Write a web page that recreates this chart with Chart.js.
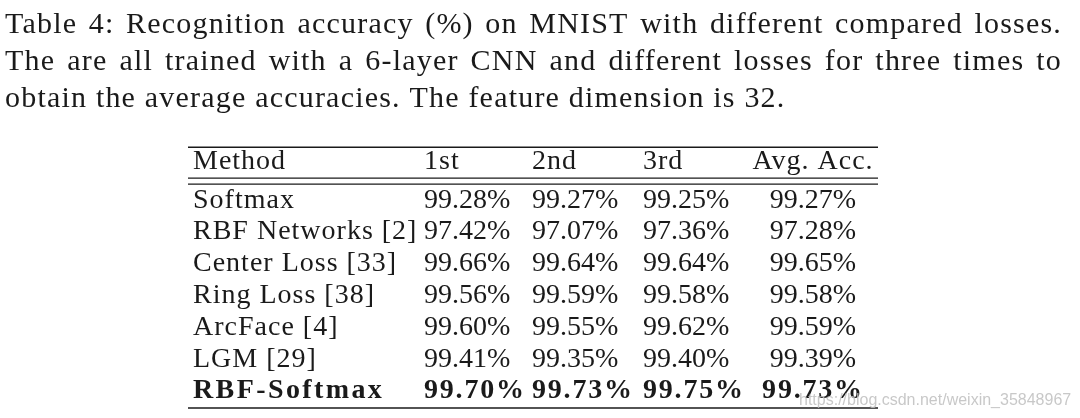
<!DOCTYPE html>
<html>
<head>
<meta charset="utf-8">
<script src="https://cdn.jsdelivr.net/npm/chart.js@4"></script>
<style>
  body { margin: 0; background: #fff; }
  #wrap { width: 1080px; height: 418px; }
</style>
</head>
<body>
<div id="wrap"><canvas id="table" width="1080" height="418"></canvas></div>
<script>
// caption + table content
const captionLines = [
  "Table 4: Recognition accuracy (%) on MNIST with different compared losses.",
  "The are all trained with a 6-layer CNN and different losses for three times to",
  "obtain the average accuracies. The feature dimension is 32."
];
const headers = ["Method", "1st", "2nd", "3rd", "Avg. Acc."];
const methods = ["Softmax", "RBF Networks [2]", "Center Loss [33]", "Ring Loss [38]",
  "ArcFace [4]", "LGM [29]", "RBF-Softmax"];
const run1 = [99.28, 97.42, 99.66, 99.56, 99.60, 99.41, 99.70];
const run2 = [99.27, 97.07, 99.64, 99.59, 99.55, 99.35, 99.73];
const run3 = [99.25, 97.36, 99.64, 99.58, 99.62, 99.40, 99.75];
const avgAcc = [99.27, 97.28, 99.65, 99.58, 99.59, 99.39, 99.73];
const boldRow = 6;
const watermark = "https://blog.csdn.net/weixin_35848967";

// layout (table units = px along x, row units along y)
const colWidths = [231, 108, 111, 110, 130];
const colAlign = ["left", "left", "left", "left", "center"];
const tabSep = 5;
const headerRow = -1.22;
const rules = [
  { y: -1.9, w: 1.5 },
  { y: -0.93, w: 1.3 },
  { y: -0.74, w: 1.3 },
  { y: 6.3, w: 1.5 }
];
const serif = "'Liberation Serif', 'Times New Roman', serif";

const colStarts = colWidths.reduce((acc, w, i) => {
  acc.push(i === 0 ? 0 : acc[i - 1] + colWidths[i - 1]);
  return acc;
}, []);
const tableWidth = colWidths.reduce((a, b) => a + b, 0);

const fmt = (v) => v.toFixed(2) + "%";

// Times is narrower than the Computer Modern in the scan, so widen with tracking
function setSpacing(ctx, px) {
  if ("letterSpacing" in ctx) ctx.letterSpacing = px + "px";
}

function drawCell(ctx, xs, col, text, y) {
  let x;
  if (colAlign[col] === "center") {
    ctx.textAlign = "center";
    x = xs.getPixelForValue(colStarts[col] + colWidths[col] / 2);
  } else {
    ctx.textAlign = "left";
    x = xs.getPixelForValue(colStarts[col] + tabSep);
  }
  ctx.fillText(text, x, y);
}

const tablePlugin = {
  id: "tablePlugin",
  afterDraw(chart) {
    const ctx = chart.ctx;
    const xs = chart.scales.x;
    const ys = chart.scales.y;
    ctx.save();
    ctx.fillStyle = "#1a1a1a";
    ctx.textBaseline = "alphabetic";

    // caption, justified like the LaTeX source
    ctx.font = "30px " + serif;
    setSpacing(ctx, 1.2);
    ctx.textAlign = "left";
    const capLeft = 5, capRight = 1062;
    captionLines.forEach((line, i) => {
      const y = 33 + i * 37;
      const words = line.split(" ");
      if (i === captionLines.length - 1) {
        ctx.fillText(line, capLeft, y);
        return;
      }
      const wordsW = words.reduce((s, w) => s + ctx.measureText(w).width, 0);
      const gap = (capRight - capLeft - wordsW) / (words.length - 1);
      let x = capLeft;
      words.forEach((w) => {
        ctx.fillText(w, x, y);
        x += ctx.measureText(w).width + gap;
      });
    });

    // rules
    ctx.strokeStyle = "#1a1a1a";
    rules.forEach((r) => {
      const y = ys.getPixelForValue(r.y);
      ctx.lineWidth = r.w;
      ctx.beginPath();
      ctx.moveTo(xs.getPixelForValue(0), y);
      ctx.lineTo(xs.getPixelForValue(tableWidth), y);
      ctx.stroke();
    });

    // header
    ctx.font = "28px " + serif;
    setSpacing(ctx, 1);
    const hy = ys.getPixelForValue(headerRow);
    headers.forEach((h, c) => drawCell(ctx, xs, c, h, hy));

    // body rows
    methods.forEach((m, r) => {
      const y = ys.getPixelForValue(r);
      const bold = r === boldRow;
      ctx.font = (bold ? "bold " : "") + "28px " + serif;
      setSpacing(ctx, bold ? 2.4 : 1);
      drawCell(ctx, xs, 0, m, y);
      setSpacing(ctx, bold ? 1.8 : 0);
      drawCell(ctx, xs, 1, fmt(run1[r]), y);
      drawCell(ctx, xs, 2, fmt(run2[r]), y);
      drawCell(ctx, xs, 3, fmt(run3[r]), y);
      drawCell(ctx, xs, 4, fmt(avgAcc[r]), y);
    });

    // blog watermark
    setSpacing(ctx, 0);
    ctx.font = "16px 'Liberation Sans', Arial, sans-serif";
    ctx.fillStyle = "rgba(190,190,190,0.85)";
    ctx.textAlign = "left";
    ctx.fillText(watermark, 799, 405);
    ctx.restore();
  }
};

new Chart(document.getElementById("table"), {
  type: "scatter",
  data: { datasets: [] },
  options: {
    responsive: false,
    animation: false,
    events: [],
    layout: { padding: { left: 188, right: 1080 - 188 - tableWidth, top: 144, bottom: 3.6 } },
    plugins: {
      legend: { display: false },
      tooltip: { enabled: false },
      title: { display: false }
    },
    scales: {
      x: { type: "linear", display: false, min: 0, max: tableWidth },
      y: { type: "linear", display: false, reverse: true, min: -2, max: 6.5 }
    }
  },
  plugins: [tablePlugin]
});
</script>
</body>
</html>
